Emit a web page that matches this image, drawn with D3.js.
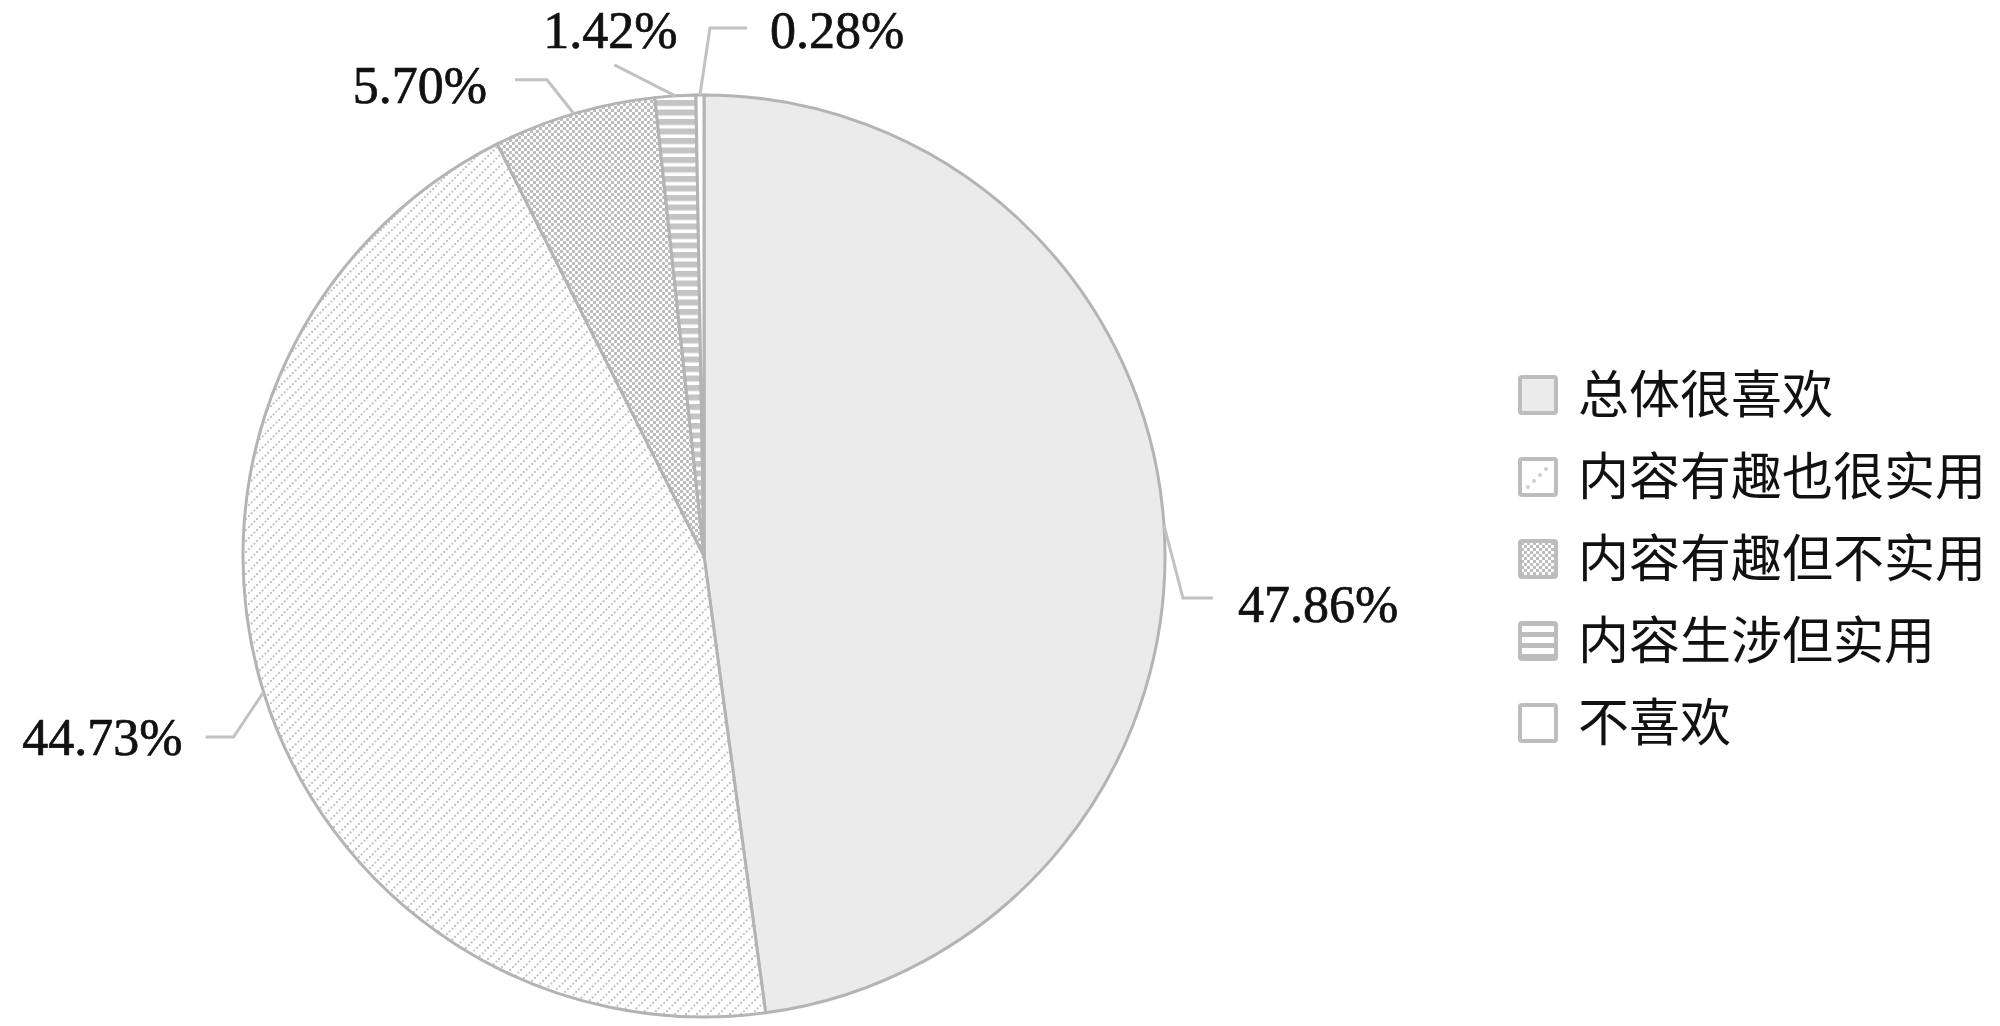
<!DOCTYPE html>
<html>
<head>
<meta charset="utf-8">
<script src="https://cdn.jsdelivr.net/npm/d3@7"></script>
<style>
  html, body { margin: 0; padding: 0; background: #fff; }
  svg { display: block; }
</style>
</head>
<body>
<div id="chart"></div>
<script>
// data
var categories = ["总体很喜欢", "内容有趣也很实用", "内容有趣但不实用", "内容生涉但实用", "不喜欢"];
var values = [47.86, 44.73, 5.70, 1.42, 0.28];
var labels = ["47.86%", "44.73%", "5.70%", "1.42%", "0.28%"];
var patterns = ["solid", "diag", "checker", "hstripe", "blank"];

// leader line layout for each label (elbow, end, text offset), relative to slice edge
var leader = [
  {ex: 19, ey: 73, tx: 49, ty: 73, lx: 74, ly: 97, anchor: "start"},
  {ex: -30, ey: 45, tx: -58, ty: 45, lx: -81, ly: 63, anchor: "end"},
  {ex: -27, ey: -34, tx: -59, ty: -34, lx: -87, ly: -11, anchor: "end"},
  {ex: -61, ey: -31, tx: -61, ty: -31, lx: -65, ly: -48, anchor: "middle"},
  {ex: 10, ey: -67, tx: 47, ty: -67, lx: 70, ly: -47, anchor: "start"}
];

var width = 2000, height = 1026;
var cx = 704, cy = 556, radius = 461;
var lineGray = "#b4b4b4";

var svg = d3.select("#chart").append("svg")
    .attr("width", width)
    .attr("height", height);

var defs = svg.append("defs");

// diagonal dotted lines
var pd = defs.append("pattern").attr("id", "p-diag")
    .attr("patternUnits", "userSpaceOnUse").attr("width", 11).attr("height", 11);
pd.append("rect").attr("width", 11).attr("height", 11).attr("fill", "#fff");
[[1.4, 9.6], [4.1, 6.9], [6.9, 4.1], [9.6, 1.4]].forEach(function(p) {
  pd.append("circle").attr("cx", p[0]).attr("cy", p[1]).attr("r", 1.1).attr("fill", "#c0c0c0");
});

// checker dots
var pc = defs.append("pattern").attr("id", "p-checker")
    .attr("patternUnits", "userSpaceOnUse").attr("width", 6).attr("height", 6);
pc.append("rect").attr("width", 6).attr("height", 6).attr("fill", "#fff");
pc.append("rect").attr("width", 3).attr("height", 3).attr("fill", "#bdbdbd");
pc.append("rect").attr("x", 3).attr("y", 3).attr("width", 3).attr("height", 3).attr("fill", "#bdbdbd");

// horizontal stripes
var ph = defs.append("pattern").attr("id", "p-hstripe")
    .attr("patternUnits", "userSpaceOnUse").attr("width", 9).attr("height", 9.5);
ph.append("rect").attr("width", 9).attr("height", 9.5).attr("fill", "#fff");
ph.append("rect").attr("width", 9).attr("height", 6).attr("fill", "#c4c4c4");

// legend stripes (bigger, so they read in the small box)
var lph = defs.append("pattern").attr("id", "lp-hstripe")
    .attr("patternUnits", "userSpaceOnUse").attr("width", 40).attr("height", 11);
lph.append("rect").attr("width", 40).attr("height", 11).attr("fill", "#fff");
lph.append("rect").attr("width", 40).attr("height", 5).attr("fill", "#bdbdbd");

function fillFor(p) {
  if (p == "solid") return "#ebebeb";
  if (p == "blank") return "#fff";
  return "url(#p-" + p + ")";
}

var pie = d3.pie().sort(null).value(function(d) { return d; });
var arcs = pie(values);

var arc = d3.arc().innerRadius(0).outerRadius(radius);

var g = svg.append("g").attr("transform", "translate(" + cx + "," + cy + ")");

g.selectAll("path.slice")
    .data(arcs)
  .enter().append("path")
    .attr("class", "slice")
    .attr("d", arc)
    .attr("fill", function(d, i) { return fillFor(patterns[i]); })
    .attr("stroke", lineGray)
    .attr("stroke-width", 3)
    .attr("stroke-linejoin", "round");

// leader lines + labels
arcs.forEach(function(d, i) {
  var a = (d.startAngle + d.endAngle) / 2;
  var x0 = Math.sin(a) * radius, y0 = -Math.cos(a) * radius;
  var L = leader[i];
  g.append("polyline")
      .attr("points", [[x0, y0], [x0 + L.ex, y0 + L.ey], [x0 + L.tx, y0 + L.ty]].join(" "))
      .attr("fill", "none")
      .attr("stroke", "#c2c2c2")
      .attr("stroke-width", 3);
  g.append("text")
      .attr("x", x0 + L.lx)
      .attr("y", y0 + L.ly)
      .attr("text-anchor", L.anchor)
      .style("font-family", "'Liberation Serif', 'Times New Roman', serif")
      .style("font-size", "52px")
      .style("fill", "#111")
      .style("stroke", "#111")
      .style("stroke-width", 0.7)
      .text(labels[i]);
});

// legend
var ly = d3.scaleBand().domain(categories).range([375, 375 + 82 * categories.length]);
var legend = svg.append("g").attr("class", "legend");
var items = legend.selectAll("g")
    .data(categories)
  .enter().append("g")
    .attr("transform", function(d) { return "translate(1518," + ly(d) + ")"; });

items.append("rect")
    .attr("x", 2).attr("y", 2)
    .attr("width", 36).attr("height", 36)
    .attr("rx", 2)
    .attr("fill", function(d, i) {
      var p = patterns[i];
      if (p == "hstripe") return "url(#lp-hstripe)";
      if (p == "diag") return "#fff";
      return fillFor(p);
    })
    .attr("stroke", "#bdbdbd")
    .attr("stroke-width", 4);

// a few dots for the diagonal box
items.filter(function(d, i) { return patterns[i] == "diag"; })
  .selectAll("circle")
    .data([[10, 30], [16, 24], [22, 18], [28, 12]])
  .enter().append("circle")
    .attr("cx", function(p) { return p[0]; })
    .attr("cy", function(p) { return p[1]; })
    .attr("r", 2)
    .attr("fill", "#cfcfcf");

items.append("text")
    .attr("x", 60)
    .attr("y", 20)
    .attr("dy", "0.36em")
    .style("font-family", "'Noto Sans CJK SC', sans-serif")
    .style("font-size", "51px")
    .style("fill", "#111")
    .text(function(d) { return d; });
</script>
</body>
</html>
